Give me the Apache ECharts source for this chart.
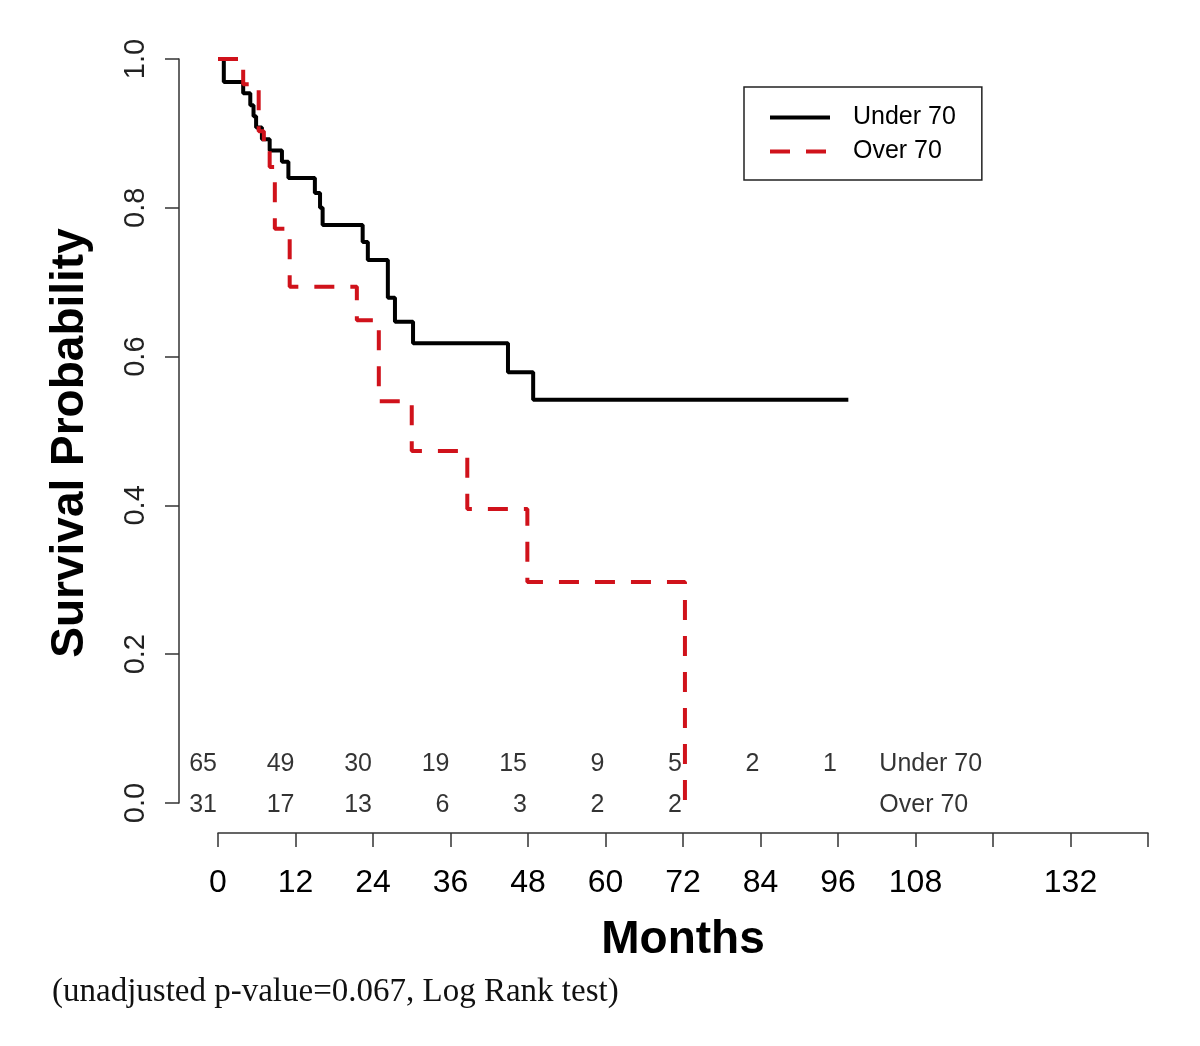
<!DOCTYPE html>
<html>
<head>
<meta charset="utf-8">
<script src="https://cdn.jsdelivr.net/npm/echarts@6/dist/echarts.min.js"></script>
<style>
html,body{margin:0;padding:0;background:#fff;}
#chart{width:1200px;height:1046px;}
</style>
</head>
<body>
<div id="chart"></div>
<script>
// ---- data ----
const seriesNames = ['Under 70', 'Over 70'];
const underTimes = [0, 0.9, 3.9, 5.0, 5.5, 5.9, 6.8, 8.0, 9.9, 10.9, 15.0, 15.8, 16.2, 22.4, 23.2, 26.3, 27.4, 30.2, 44.9, 48.8, 97.6];
const underSurv  = [1.0, 0.969, 0.954, 0.938, 0.923, 0.908, 0.892, 0.877, 0.862, 0.840, 0.820, 0.800, 0.777, 0.754, 0.730, 0.679, 0.647, 0.618, 0.579, 0.542, 0.542];
const overTimes = [0, 3.9, 6.3, 7.1, 8.0, 8.8, 11.1, 21.5, 24.9, 30.0, 38.6, 47.9, 72.3];
const overSurv  = [1.0, 0.966, 0.903, 0.882, 0.855, 0.772, 0.694, 0.649, 0.540, 0.473, 0.395, 0.297, 0.0];
const riskTimes = [0, 12, 24, 36, 48, 60, 72, 84, 96];
const riskUnder = [65, 49, 30, 19, 15, 9, 5, 2, 1];
const riskOver  = [31, 17, 13, 6, 3, 2, 2];
const xTickLabels = ['0', '12', '24', '36', '48', '60', '72', '84', '96', '108', '', '132', ''];
const yTickLabels = ['0.0', '0.2', '0.4', '0.6', '0.8', '1.0'];
const xTitle = 'Months';
const yTitle = 'Survival Probability';
const footnote = '(unadjusted p-value=0.067, Log Rank test)';

// ---- layout constants ----
const SANS = '"Liberation Sans", Arial, sans-serif';
const RED = '#d0121b';
const rowY = [0.0524, -0.0027];
const rowLabelX = 102.4;

const underData = underTimes.map((t, i) => [t, underSurv[i]]);
const overData = overTimes.map((t, i) => [t, overSurv[i]]);

function riskSeries(counts, yv) {
  const data = counts.map((c, i) => ({ value: [riskTimes[i], yv], label: { formatter: String(c) } }));
  return {
    type: 'scatter', symbolSize: 0, clip: false, silent: true, z: 5,
    data: data,
    label: { show: true, position: 'left', distance: 1, fontFamily: SANS, fontSize: 25, color: '#000', textBorderWidth: 0 },
    emphasis: { disabled: true }
  };
}
function rowNameSeries() {
  return {
    type: 'scatter', symbolSize: 0, clip: false, silent: true, z: 5,
    data: seriesNames.map((n, i) => ({ value: [rowLabelX, rowY[i]], label: { formatter: n } })),
    label: { show: true, position: 'right', distance: 0, fontFamily: SANS, fontSize: 25, color: '#000', textBorderWidth: 0 },
    emphasis: { disabled: true }
  };
}

const chart = echarts.init(document.getElementById('chart'), null, { renderer: 'canvas' });
chart.setOption({
  backgroundColor: '#ffffff',
  animation: false,
  grid: { left: 218, right: 52, top: 59, bottom: 243, containLabel: false },
  xAxis: {
    type: 'value', min: 0, max: 144, interval: 12, offset: 30,
    name: xTitle, nameLocation: 'middle', nameGap: 84,
    nameTextStyle: { fontFamily: SANS, fontSize: 46, fontWeight: 'bold', color: '#000' },
    axisLine: { show: true, onZero: false, lineStyle: { color: '#333', width: 1.5 } },
    axisTick: { show: true, inside: false, length: 14, lineStyle: { color: '#333', width: 1.5 } },
    axisLabel: { margin: 34, fontFamily: SANS, fontSize: 32, color: '#000', showMaxLabel: true, showMinLabel: true,
      formatter: (v) => xTickLabels[Math.round(v / 12)] },
    splitLine: { show: false }
  },
  yAxis: {
    type: 'value', min: 0, max: 1, interval: 0.2, offset: 39,
    axisLine: { show: true, onZero: false, lineStyle: { color: '#333', width: 1.5 } },
    axisTick: { show: true, inside: false, length: 14, lineStyle: { color: '#333', width: 1.5 } },
    axisLabel: { rotate: 90, margin: 29, fontFamily: SANS, fontSize: 29, color: '#222',
      formatter: (v) => yTickLabels[Math.round(v / 0.2)] },
    splitLine: { show: false }
  },
  legend: {
    data: seriesNames, orient: 'vertical', left: 744, top: 87,
    padding: [18, 26, 16, 24], itemGap: 9, itemWidth: 60, itemHeight: 24,
    borderColor: '#222', borderWidth: 1.5, backgroundColor: '#fff',
    textStyle: { fontFamily: SANS, fontSize: 25, color: '#000', padding: [0, 0, 0, 18] },
    lineStyle: { width: 4, opacity: 1 },
    itemStyle: { opacity: 0, borderWidth: 0 }
  },
  series: [
    { name: seriesNames[0], type: 'line', step: 'end', data: underData, symbol: 'none', z: 3,
      lineStyle: { color: '#000', width: 4, type: 'solid' }, itemStyle: { color: '#000' } },
    { name: seriesNames[1], type: 'line', step: 'end', data: overData, symbol: 'none', z: 4,
      lineStyle: { color: RED, width: 4, type: [20, 16] }, itemStyle: { color: RED } },
    riskSeries(riskUnder, rowY[0]),
    riskSeries(riskOver, rowY[1]),
    rowNameSeries()
  ],
  graphic: [
    { type: 'text', x: 70, y: 443, rotation: Math.PI / 2,
      style: { text: yTitle, font: 'bold 46px "Liberation Sans", Arial, sans-serif', fill: '#000', align: 'center', verticalAlign: 'middle' } },
    { type: 'text', left: 52, top: 976, style: { text: footnote, font: '33px "Liberation Serif", "Times New Roman", serif', fill: '#111' } }
  ]
});
</script>
</body>
</html>
